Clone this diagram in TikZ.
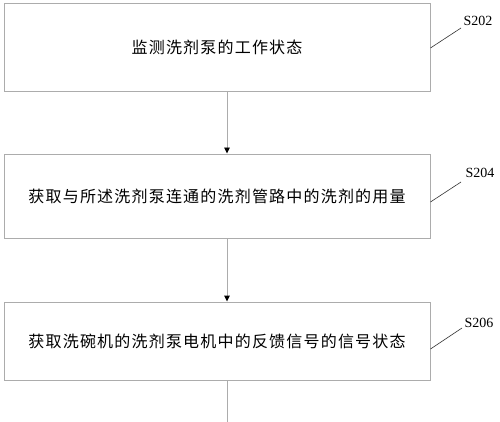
\documentclass[tikz,border=0pt]{standalone}
\usepackage{fontspec}
\setmainfont{Liberation Serif}
\newfontfamily\cjk[LetterSpace=7.5]{Noto Sans CJK SC}
\usetikzlibrary{arrows.meta,positioning,calc}

\begin{document}
\begin{tikzpicture}[x=1pt, y=-1pt,
  stepbox/.style={draw=gray!65, line width=0.9pt, minimum width=426pt, inner sep=0pt, font=\cjk\fontsize{16}{18}\selectfont},
  steplabel/.style={font=\fontsize{14}{16}\selectfont},
  leader/.style={draw=black!80, line width=0.6pt},
  flow/.style={draw=gray!65, line width=0.9pt, -{Triangle[width=5.5pt,length=6pt,color=black]}}]
  \useasboundingbox (0,0) rectangle (500,422);

  % Nodes
  \node[stepbox, minimum height=88pt] (b1) at (217,47)  {监测洗剂泵的工作状态};
  \node[stepbox, minimum height=84pt] (b2) at (217,196) {获取与所述洗剂泵连通的洗剂管路中的洗剂的用量};
  \node[stepbox, minimum height=78pt] (b3) at (217,341) {获取洗碗机的洗剂泵电机中的反馈信号的信号状态};

  \node[steplabel] (s1) at (478,21)  {S202};
  \node[steplabel] (s2) at (480,173) {S204};
  \node[steplabel] (s3) at (479,323) {S206};

  \coordinate (ax) at (227,0);
  \coordinate (tail) at (227,422);
  \coordinate (l1) at (461,28);
  \coordinate (l2) at (461,182);
  \coordinate (l3) at (462,328);

  % Edges
  \draw[flow] (b1.south -| ax) -- (b2.north -| ax);
  \draw[flow] (b2.south -| ax) -- (b3.north -| ax);
  \draw[draw=gray!65, line width=0.9pt] (b3.south -| ax) -- (tail);

  % Leaders
  \draw[leader] ($(b1.east)+(0,1)$) -- (l1);
  \draw[leader] ($(b2.east)+(0,6)$) -- (l2);
  \draw[leader] ($(b3.east)+(0,8)$) -- (l3);
\end{tikzpicture}
\end{document}
